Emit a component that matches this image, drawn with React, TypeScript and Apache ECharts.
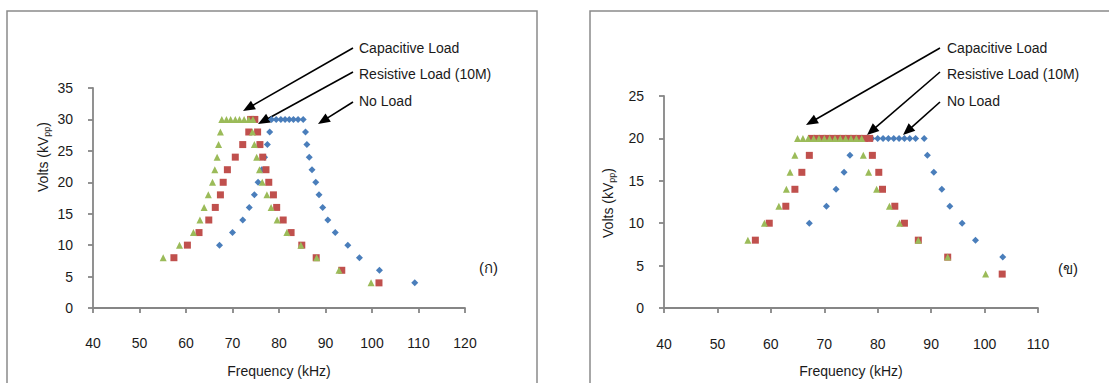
import React, { useEffect, useRef } from "react";
import * as echarts from "echarts";

// ---------- Data: chart (ก) ----------
const noLoadA: [number, number][] = [
  [67.2, 10], [70.0, 12], [72.2, 14], [73.6, 16], [74.7, 18], [75.5, 20], [76.3, 22], [76.9, 24], [77.5, 26], [78.0, 28],
  [78.4, 30], [79.4, 30], [80.4, 30], [81.3, 30], [82.2, 30], [83.1, 30], [84.1, 30], [85.2, 30],
  [85.7, 28], [86.0, 26], [86.5, 24], [87.1, 22], [87.9, 20], [88.6, 18], [89.4, 16], [90.5, 14], [92.1, 12],
  [94.8, 10], [97.3, 8], [101.6, 6], [109.2, 4],
];
const resistiveA: [number, number][] = [
  [57.4, 8], [60.3, 10], [62.8, 12], [64.9, 14], [66.3, 16], [67.4, 18], [68.0, 20], [68.9, 22], [70.6, 24], [72.2, 26], [73.5, 28],
  [73.9, 30], [74.8, 30],
  [75.4, 28], [75.9, 26], [76.5, 24], [77.2, 22], [77.8, 20], [78.8, 18], [79.5, 16], [80.9, 14], [82.6, 12],
  [84.9, 10], [88.0, 8], [93.5, 6], [101.5, 4],
];
const capacitiveA: [number, number][] = [
  [55.1, 8], [58.6, 10], [61.6, 12], [63.0, 14], [63.9, 16], [64.8, 18], [65.7, 20], [66.2, 22], [66.7, 24], [67.0, 26], [67.4, 28],
  [67.7, 30], [68.7, 30], [69.6, 30], [70.6, 30], [71.5, 30], [72.5, 30], [73.5, 30], [74.4, 30],
  [74.3, 28], [74.7, 26], [75.2, 24], [75.8, 22], [76.4, 20], [77.4, 18], [78.3, 16], [79.6, 14], [81.7, 12],
  [84.7, 10], [88.1, 8], [92.9, 6], [99.8, 4],
];

// ---------- Data: chart (ข) ----------
const noLoadB: [number, number][] = [
  [67.2, 10], [70.4, 12], [72.2, 14], [73.7, 16], [74.8, 18],
  [78.9, 20], [80.0, 20], [81.0, 20], [82.0, 20], [83.0, 20], [84.0, 20], [85.0, 20], [86.0, 20], [87.1, 20], [88.7, 20],
  [89.3, 18], [90.5, 16], [92.0, 14], [93.5, 12], [95.8, 10], [98.3, 8], [103.4, 6],
];
const resistiveB: [number, number][] = [
  [57.1, 8], [59.7, 10], [62.8, 12], [64.5, 14], [65.8, 16], [67.2, 18],
  [67.6, 20], [68.6, 20], [69.6, 20], [70.5, 20], [71.5, 20], [72.5, 20], [73.5, 20], [74.5, 20], [75.5, 20], [76.5, 20], [77.5, 20], [78.5, 20],
  [79.0, 18], [80.2, 16], [80.9, 14], [83.2, 12], [85.0, 10], [87.6, 8], [93.1, 6], [103.3, 4],
];
const capacitiveB: [number, number][] = [
  [55.7, 8], [58.8, 10], [61.5, 12], [62.9, 14], [63.6, 16], [64.5, 18],
  [65.0, 20], [66.0, 20], [67.0, 20], [68.0, 20], [69.0, 20], [70.0, 20], [71.0, 20], [72.0, 20], [73.0, 20], [74.0, 20], [75.0, 20], [76.0, 20], [77.0, 20],
  [77.3, 18], [78.3, 16], [79.8, 14], [82.2, 12], [84.1, 10], [87.6, 8], [93.1, 6], [100.2, 4],
];

// ---------- Axis ranges / labels ----------
const xRangeA = [40, 120];
const yRangeA = [0, 35];
const xRangeB = [40, 110];
const yRangeB = [0, 25];
const seriesNames = ["No Load", "Resistive Load (10M)", "Capacitive Load"];
const annotationLabels = ["Capacitive Load", "Resistive Load (10M)", "No Load"];
const panelLabels = ["(ก)", "(ข)"];
const xTitle = "Frequency (kHz)";

const FONT = "'Liberation Sans', Arial, sans-serif";
const AXIS_COLOR = "#868686";
const TEXT_COLOR = "#1a1a1a";
const BLUE = "#4A7EBB";
const RED = "#C0504D";
const GREEN = "#9BBB59";

function arrow(x1: number, y1: number, x2: number, y2: number) {
  const dx = x2 - x1;
  const dy = y2 - y1;
  const len = Math.sqrt(dx * dx + dy * dy);
  const ux = dx / len;
  const uy = dy / len;
  const headLen = 12;
  const headW = 10;
  const bx = x2 - ux * headLen;
  const by = y2 - uy * headLen;
  const nx = -uy;
  const ny = ux;
  return [
    {
      type: "line",
      shape: { x1, y1, x2: bx + ux * 2, y2: by + uy * 2 },
      style: { stroke: "#000", lineWidth: 1.6 },
      silent: true,
    },
    {
      type: "polygon",
      shape: {
        points: [
          [x2, y2],
          [bx + (nx * headW) / 2, by + (ny * headW) / 2],
          [bx - (nx * headW) / 2, by - (ny * headW) / 2],
        ],
      },
      style: { fill: "#000" },
      silent: true,
    },
  ];
}

function txt(x: number, y: number, text: string, extra: any = {}) {
  return {
    type: "text",
    x,
    y,
    silent: true,
    style: {
      text,
      fill: TEXT_COLOR,
      font: `14px ${FONT}`,
      align: "left",
      verticalAlign: "middle",
      ...extra,
    },
  };
}

function xAxisCfg(idx: number, range: number[], margin: number) {
  return {
    type: "value",
    gridIndex: idx,
    min: range[0],
    max: range[1],
    interval: 10,
    name: xTitle,
    nameLocation: "middle",
    nameGap: 56,
    nameTextStyle: { fontFamily: FONT, fontSize: 14, color: TEXT_COLOR },
    axisLine: { show: true, onZero: false, lineStyle: { color: AXIS_COLOR, width: 1.8 } },
    axisTick: { show: true, length: 5, lineStyle: { color: AXIS_COLOR, width: 1.8 } },
    axisLabel: { margin, fontFamily: FONT, fontSize: 14, color: TEXT_COLOR },
    splitLine: { show: false },
  };
}

function yAxisCfg(idx: number, range: number[]) {
  return {
    type: "value",
    gridIndex: idx,
    min: range[0],
    max: range[1],
    interval: 5,
    axisLine: { show: true, onZero: false, lineStyle: { color: AXIS_COLOR, width: 1.8 } },
    axisTick: { show: true, length: 5, lineStyle: { color: AXIS_COLOR, width: 1.8 } },
    axisLabel: { margin: 20, fontFamily: FONT, fontSize: 14, color: TEXT_COLOR },
    splitLine: { show: false },
  };
}

function scatter(name: string, data: [number, number][], symbol: string, size: number, color: string, idx: number) {
  return {
    type: "scatter",
    name,
    data,
    symbol,
    symbolSize: size,
    xAxisIndex: idx,
    yAxisIndex: idx,
    itemStyle: { color, opacity: 1 },
    emphasis: { disabled: true },
    silent: true,
  };
}

function yName(x: number, y: number) {
  return {
    type: "text",
    x,
    y,
    rotation: Math.PI / 2,
    silent: true,
    style: {
      text: "Volts (kV{s|pp})",
      fill: TEXT_COLOR,
      font: `14px ${FONT}`,
      align: "center",
      verticalAlign: "middle",
      rich: {
        s: { fontSize: 9, fontFamily: FONT, fill: TEXT_COLOR, padding: [7, 0, 0, 0] },
      },
    },
  };
}

export default function App() {
  const ref = useRef<HTMLDivElement>(null);
  useEffect(() => {
    if (!ref.current) return;
    const chart = echarts.init(ref.current, undefined, { renderer: "svg" });
    const graphic: any[] = [
      {
        type: "rect",
        shape: { x: 7, y: 11, width: 530, height: 420 },
        style: { fill: "none", stroke: "#8a8a8a", lineWidth: 1.5 },
        silent: true,
      },
      {
        type: "rect",
        shape: { x: 590, y: 11, width: 560, height: 420 },
        style: { fill: "none", stroke: "#8a8a8a", lineWidth: 1.5 },
        silent: true,
      },
      // chart (ก) annotations
      txt(359, 48, annotationLabels[0]),
      txt(359, 74, annotationLabels[1]),
      txt(359, 101, annotationLabels[2]),
      ...arrow(353, 48, 243, 111),
      ...arrow(353, 72, 258, 124),
      ...arrow(353, 102, 318, 124),
      txt(479, 267, panelLabels[0], { font: `15px ${FONT}` }),
      yName(43, 157),
      // chart (ข) annotations
      txt(947, 48, annotationLabels[0]),
      txt(947, 74, annotationLabels[1]),
      txt(947, 101, annotationLabels[2]),
      ...arrow(940, 48, 806, 125),
      ...arrow(940, 72, 867, 135),
      ...arrow(940, 102, 903, 135),
      txt(1058, 268, panelLabels[1], { font: `15px ${FONT}` }),
      yName(608, 203),
    ];
    chart.setOption({
      animation: false,
      backgroundColor: "#ffffff",
      textStyle: { fontFamily: FONT },
      grid: [
        { left: 93, top: 88, width: 372, height: 220 },
        { left: 664, top: 96, width: 374, height: 217 },
      ],
      xAxis: [xAxisCfg(0, xRangeA, 28), xAxisCfg(1, xRangeB, 29)],
      yAxis: [yAxisCfg(0, yRangeA), yAxisCfg(1, yRangeB)],
      series: [
        scatter(seriesNames[0], noLoadA, "diamond", 7, BLUE, 0),
        scatter(seriesNames[1], resistiveA, "rect", 7, RED, 0),
        scatter(seriesNames[2], capacitiveA, "triangle", 7, GREEN, 0),
        scatter(seriesNames[0], noLoadB, "diamond", 7, BLUE, 1),
        scatter(seriesNames[1], resistiveB, "rect", 7, RED, 1),
        scatter(seriesNames[2], capacitiveB, "triangle", 7, GREEN, 1),
      ],
      graphic,
    });
    return () => chart.dispose();
  }, []);
  return (
    <div
      ref={ref}
      style={{ position: "fixed", left: 0, top: 0, width: 1109, height: 383, background: "#fff" }}
    />
  );
}
